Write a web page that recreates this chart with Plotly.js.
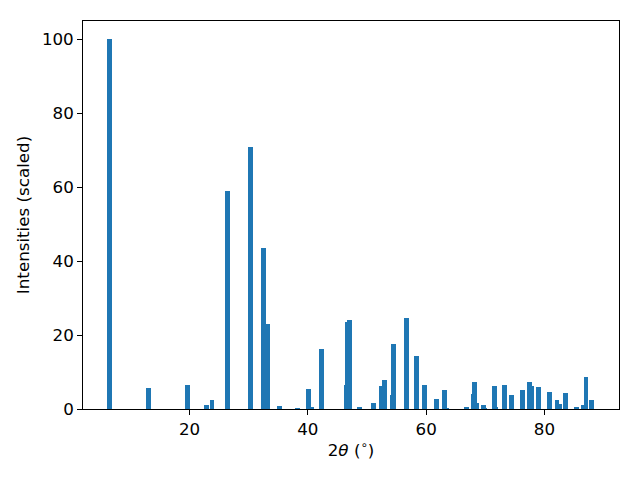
<!DOCTYPE html>
<html><head><meta charset="utf-8">
<script src="https://cdn.plot.ly/plotly-3.0.1.min.js"></script>
<style>body{margin:0;background:#fff}#plot{width:640px;height:480px}</style>
</head><body><div id="plot"></div>
<script>
const twoTheta = [6.5, 13.1, 19.7, 22.9, 23.8, 26.4, 30.3, 32.5, 33.2, 35.2, 38.3, 40.1, 40.7, 42.3,
  46.5, 46.7, 47.1, 48.7, 51.1, 52.4, 53.0, 54.3, 54.5, 56.7, 58.4, 59.7, 61.8, 63.1, 63.5, 66.8,
  68.0, 68.2, 68.6, 69.7, 69.9, 71.5, 71.8, 73.2, 74.4, 76.3, 77.5, 77.9, 79.0, 80.9, 82.1, 82.5,
  83.6, 85.4, 86.6, 87.0, 88.0];
const intensity = [100, 5.7, 6.5, 1.1, 2.4, 58.9, 70.9, 43.7, 23.1, 0.8, 0.3, 5.4, 0.5, 16.3,
  6.5, 23.6, 24.2, 0.5, 1.6, 6.2, 7.9, 3.8, 17.7, 24.7, 14.4, 6.5, 2.7, 5.2, 0.3, 0.5,
  4.1, 7.3, 1.6, 1.1, 0.3, 6.2, 0.5, 6.5, 3.8, 5.2, 7.3, 6.2, 6.0, 4.6, 2.4, 1.4,
  4.3, 0.5, 1.1, 8.7, 2.4];
const xTicks = [20, 40, 60, 80];
const yTicks = [0, 20, 40, 60, 80, 100];

const font = {family: 'DejaVu Sans', size: 16.7, color: '#000'};
const trace = {
  type: 'bar', x: twoTheta, y: intensity, width: 0.8,
  marker: {color: '#1f77b4', line: {width: 0}}, hoverinfo: 'none'
};
const axisCommon = {
  showgrid: false, zeroline: false, showline: true, mirror: true,
  linecolor: '#000', linewidth: 1, ticks: 'outside', ticklen: 4.9, tickwidth: 1,
  tickcolor: '#000', tickfont: font
};
const layout = {
  width: 640, height: 480, paper_bgcolor: '#fff', plot_bgcolor: '#fff',
  margin: {l: 83, r: 21, t: 21, b: 71},
  showlegend: false, bargap: 0,
  font: font,
  xaxis: Object.assign({}, axisCommon, {
    range: [2.0, 92.6], tickvals: xTicks, ticktext: xTicks.map(String),
    title: {text: '2<i>θ</i> (<sup>∘</sup>)', font: font, standoff: 6}
  }),
  yaxis: Object.assign({}, axisCommon, {
    range: [0, 105], tickvals: yTicks, ticktext: yTicks.map(String),
    title: {text: 'Intensities (scaled)', font: font, standoff: 8}
  })
};
Plotly.newPlot('plot', [trace], layout, {staticPlot: true});
</script></body></html>
